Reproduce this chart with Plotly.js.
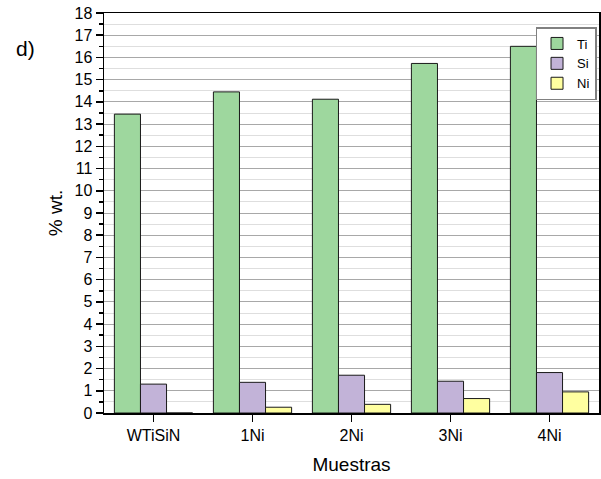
<!DOCTYPE html>
<html>
<head>
<meta charset="utf-8">
<script src="https://cdn.plot.ly/plotly-3.0.1.min.js"></script>
<style>html,body{margin:0;padding:0;background:#fff;}#chart{width:601px;height:479px;}</style>
</head>
<body>
<div id="chart"></div>
<script>
const categories = ["WTiSiN", "1Ni", "2Ni", "3Ni", "4Ni"];
const ti = [13.45, 14.45, 14.12, 15.73, 16.5];
const si = [1.3, 1.38, 1.7, 1.43, 1.82];
const ni = [0, 0.26, 0.39, 0.65, 0.95];
const seriesNames = ["Ti", "Si", "Ni"];
const seriesColors = ["#9ED79E", "#C2B3D8", "#FFFFA0"];
const yTickVals = [0,1,2,3,4,5,6,7,8,9,10,11,12,13,14,15,16,17,18];

const values = [ti, si, ni];
const traces = values.map((v, i) => ({
  type: "bar",
  name: seriesNames[i],
  x: categories,
  y: v,
  marker: {color: seriesColors[i], line: {color: "#1a1a1a", width: 1}},
  hoverinfo: "x+y+name"
}));

const font = "Liberation Sans, Arial, sans-serif";
const layout = {
  width: 601, height: 479,
  margin: {l: 104, r: 2, t: 13, b: 66},
  paper_bgcolor: "#fff", plot_bgcolor: "#fff",
  barmode: "group", bargap: 0.21, bargroupgap: 0,
  font: {family: font, color: "#000", size: 16},
  xaxis: {
    range: [-0.5, 4.5],
    showline: true, linecolor: "#000", linewidth: 1.5, mirror: true,
    ticks: "outside", ticklen: 7, tickwidth: 1.5, tickcolor: "#000",
    tickfont: {family: font, size: 16, color: "#000"},
    minor: {ticks: "outside", ticklen: 4, tickwidth: 1.5, tickcolor: "#000", dtick: 1, tick0: -0.5},
    showgrid: false, zeroline: false,
    title: {text: "Muestras", font: {family: font, size: 19, color: "#000"}, standoff: 15}
  },
  yaxis: {
    range: [0, 18],
    tickvals: yTickVals, ticktext: yTickVals.map(String),
    showline: true, linecolor: "#000", linewidth: 1.5, mirror: true,
    ticks: "outside", ticklen: 7, tickwidth: 1.5, tickcolor: "#000",
    tickfont: {family: font, size: 16, color: "#000"},
    showgrid: true, gridcolor: "#a8a8a8", gridwidth: 1,
    minor: {ticks: "outside", ticklen: 4, tickwidth: 1.5, tickcolor: "#000", dtick: 0.5, tick0: 0.5, showgrid: true, gridcolor: "#dedede", gridwidth: 1},
    zeroline: false,
    title: {text: "% wt.", font: {family: font, size: 19, color: "#000"}, standoff: 7}
  },
  legend: {
    x: 0.995, xanchor: "right", y: 0.965, yanchor: "top",
    bgcolor: "#fff", bordercolor: "#808080", borderwidth: 1.5,
    font: {family: font, size: 13, color: "#000"},
    itemwidth: 30, tracegroupgap: 0
  },
  annotations: [{
    text: "d)", xref: "paper", yref: "paper", x: -0.158, y: 0.91,
    xanchor: "center", yanchor: "middle", showarrow: false,
    font: {family: font, size: 21, color: "#000"}
  }]
};

Plotly.newPlot("chart", traces, layout, {displayModeBar: false, staticPlot: true});
</script>
</body>
</html>
